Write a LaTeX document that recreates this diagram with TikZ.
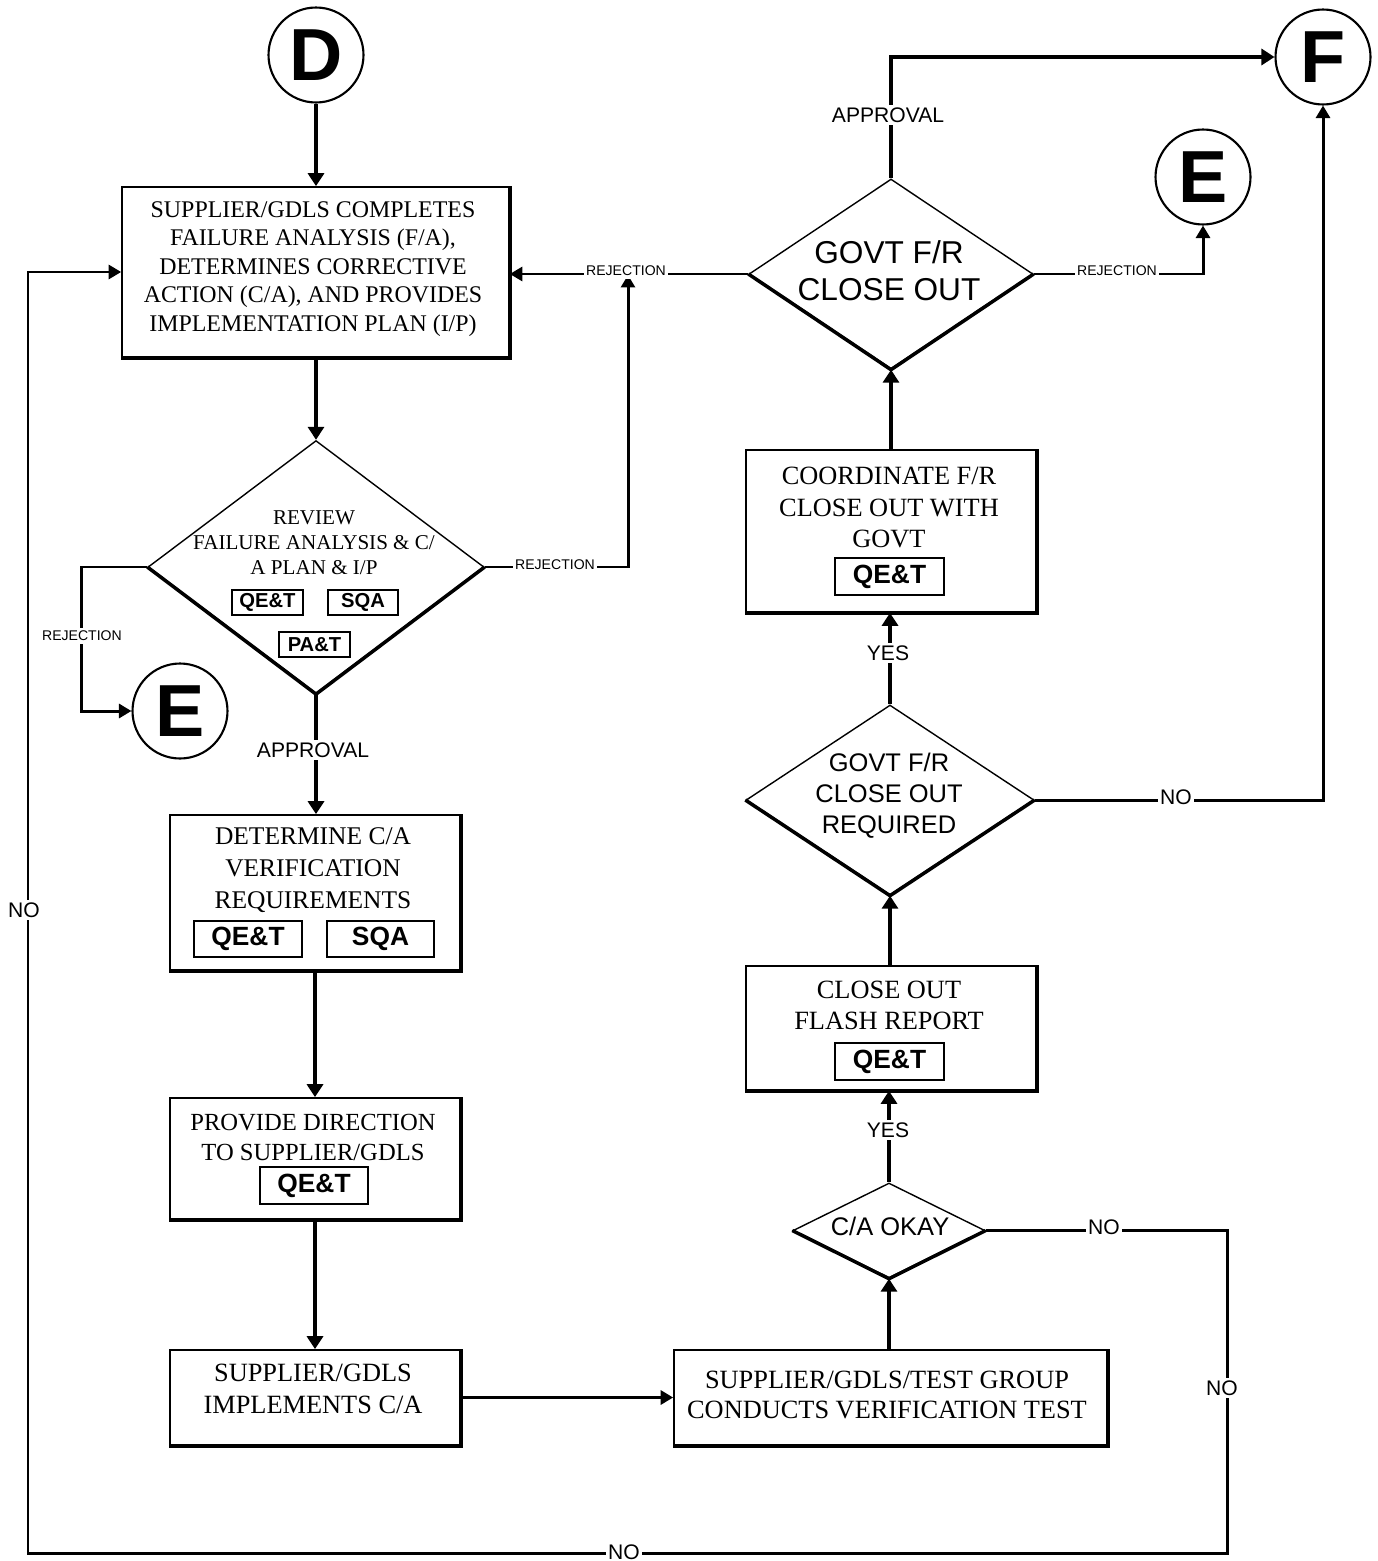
\documentclass[tikz,border=0pt]{standalone}
\usepackage{fontspec}
\setmainfont{Liberation Serif}
\newfontfamily\sansf{Liberation Sans}
\usetikzlibrary{arrows.meta,shapes.geometric,calc}
\tikzset{
  box/.style={draw, line width=1pt, rectangle, inner sep=0pt},
  tag/.style={draw, line width=0.8pt, rectangle, inner sep=0pt, font=\sansf\bfseries\fontsize{15}{15}\selectfont},
  stag/.style={tag, font=\sansf\bfseries\fontsize{11.5}{12}\selectfont},
  dia/.style={draw, diamond, line width=0.8pt, inner sep=0pt},
  conn/.style={circle, draw, line width=1.2pt, minimum size=1.9cm, inner sep=0pt, font=\sansf\bfseries\fontsize{42}{42}\selectfont},
  flow/.style={line width=2.4pt, -{Triangle[length=0.26cm,width=0.32cm]}},
  side/.style={line width=1.7pt, -{Triangle[length=0.25cm,width=0.28cm]}},
  lab/.style={fill=white, inner sep=1.5pt, font=\sansf\fontsize{12}{12}\selectfont},
  slab/.style={fill=white, inner sep=1.5pt, font=\sansf\fontsize{8}{8}\selectfont},
  btxt/.style={align=center, inner sep=0pt},
  dtxt/.style={align=center, inner sep=0pt},
}
\begin{document}
\begin{tikzpicture}[x=0.02cm,y=-0.02cm]
\useasboundingbox[fill=white] (0,0) rectangle (1377,1561);

% connectors (circles)
\node[conn] (D) at (316,55) {D};
\node[conn] (E1) at (180,711) {E};
\node[conn] (E2) at (1203,177) {E};
\node[conn] (F) at (1323,57) {F};

% boxes
\node[box, minimum width=7.74cm, minimum height=3.4cm] (b1) at (315.5,272) {};
\node[box, minimum width=5.8cm, minimum height=3.1cm] (b2) at (315,892.5) {};
\node[box, minimum width=5.8cm, minimum height=2.42cm] (b3) at (315,1158.5) {};
\node[box, minimum width=5.8cm, minimum height=1.9cm] (b4) at (315,1397.5) {};
\node[box, minimum width=8.66cm, minimum height=1.9cm] (b5) at (890.5,1397.5) {};
\node[box, minimum width=5.8cm, minimum height=2.48cm] (b6) at (891,1028) {};
\node[box, minimum width=5.8cm, minimum height=3.24cm] (b7) at (891,531) {};

% diamonds
\node[dia, minimum width=6.72cm, minimum height=5.06cm] (d1) at (316,567) {};
\node[dia, minimum width=5.76cm, minimum height=3.8cm] (d3) at (890,800) {};
\node[dia, minimum width=5.68cm, minimum height=3.8cm] (d4) at (891,274) {};
\node[dia, minimum width=3.84cm, minimum height=1.9cm] (d5) at (889,1230.5) {};

% shadow edges
\foreach \n in {b1,b2,b3,b4,b5,b6,b7}
  \draw[line width=2.6pt, line cap=square] (\n.north east) -- (\n.south east) -- (\n.south west);
\foreach \n in {d1,d3,d4,d5}
  \draw[line width=2pt, line join=round] (\n.west) -- (\n.south) -- (\n.east);

% texts
\node[btxt, font=\fontsize{13.6}{16.2}\selectfont] (t1) at (313,269)
  {SUPPLIER/GDLS COMPLETES\\FAILURE ANALYSIS (F/A),\\DETERMINES CORRECTIVE\\ACTION (C/A), AND PROVIDES\\IMPLEMENTATION PLAN (I/P)};
\node[dtxt, font=\fontsize{12}{14.2}\selectfont] (td1) at (314,543)
  {REVIEW\\FAILURE ANALYSIS \& C/\\A PLAN \& I/P};
\node[btxt, font=\fontsize{14.5}{18.2}\selectfont] (t2) at (313,870)
  {DETERMINE C/A\\VERIFICATION\\REQUIREMENTS};
\node[btxt, font=\fontsize{14}{17.6}\selectfont] (t3) at (313,1137.5)
  {PROVIDE DIRECTION\\TO SUPPLIER/GDLS};
\node[btxt, font=\fontsize{15}{18.2}\selectfont] (t4) at (313,1389)
  {SUPPLIER/GDLS\\IMPLEMENTS C/A};
\node[btxt, font=\fontsize{15}{17}\selectfont] (t5) at (887,1395)
  {SUPPLIER/GDLS/TEST GROUP\\CONDUCTS VERIFICATION TEST};
\node[dtxt, font=\sansf\fontsize{14.5}{17}\selectfont] (td5) at (890,1226) {C/A OKAY};
\node[btxt, font=\fontsize{15}{17.6}\selectfont] (t6) at (889,1005.5)
  {CLOSE OUT\\FLASH REPORT};
\node[dtxt, font=\sansf\fontsize{14.5}{17.6}\selectfont] (td3) at (889,796)
  {GOVT F/R\\CLOSE OUT\\REQUIRED};
\node[btxt, font=\fontsize{15}{17.9}\selectfont] (t7) at (889,507.5)
  {COORDINATE F/R\\CLOSE OUT WITH\\GOVT};
\node[dtxt, font=\sansf\fontsize{18}{21}\selectfont] (td4) at (889,270.5)
  {GOVT F/R\\CLOSE OUT};

% tags
\node[tag, minimum width=2.16cm, minimum height=0.72cm] (g2a) at (248,939) {QE\&T};
\node[tag, minimum width=2.14cm, minimum height=0.72cm] (g2b) at (380.5,939) {SQA};
\node[tag, minimum width=2.16cm, minimum height=0.74cm] (g3) at (314,1185.5) {QE\&T};
\node[tag, minimum width=2.18cm, minimum height=0.74cm] (g6) at (889.5,1061.5) {QE\&T};
\node[tag, minimum width=2.18cm, minimum height=0.74cm] (g7) at (889.5,576.5) {QE\&T};
\node[stag, minimum width=1.42cm, minimum height=0.5cm] (g1a) at (267.5,602.5) {QE\&T};
\node[stag, minimum width=1.4cm, minimum height=0.5cm] (g1b) at (363,602.5) {SQA};
\node[stag, minimum width=1.42cm, minimum height=0.5cm] (g1c) at (314.5,644.5) {PA\&T};

% coordinates
\coordinate (rj) at (628,275);
\coordinate (n1) at (1227,1553);
\coordinate (n2) at (28,1553);

% flow connectors
\draw[flow] (D.south) -- (D.south |- b1.north);
\draw[flow] (b1.south -| d1.north) -- (d1.north);
\draw[flow] (d1.south) -- (d1.south |- b2.north);
\draw[flow] (b2.south) -- (b3.north);
\draw[flow] (b3.south) -- (b4.north);
\draw[side] (b4.east) -- (b5.west);
\draw[flow] (b5.north -| d5.south) -- (d5.south);
\draw[flow] (d5.north) -- (d5.north |- b6.south);
\draw[flow] (b6.north -| d3.south) -- (d3.south);
\draw[flow] (d3.north) -- (d3.north |- b7.south);
\draw[flow] (b7.north -| d4.south) -- (d4.south);
\draw[flow] (d4.north) |- (F.west);

% side connectors
\draw[side] (d1.west) -- ++(-66,0) |- (E1.west);
\draw[side] (d1.east) -| (rj);
\draw[side] (d4.west) -- (b1.east |- d4.west);
\draw[side] (d4.east) -| (E2.south);
\draw[side] (d3.east) -| (F.south);
\draw[side] (d5.east) -| (n1) -- (n2) |- (b1.west);

% labels
\node[slab] (l1) at (82,636) {REJECTION};
\node[slab] (l2) at (555,565) {REJECTION};
\node[slab] (l3) at (626,271) {REJECTION};
\node[slab] (l4) at (1117,271) {REJECTION};
\node[lab] (l5) at (313,750) {APPROVAL};
\node[lab] (l6) at (888,115) {APPROVAL};
\node[lab] (l7) at (888,653) {YES};
\node[lab] (l8) at (888,1130) {YES};
\node[lab] (l9) at (1176,797) {NO};
\node[lab] (l10) at (1104,1227) {NO};
\node[lab] (l11) at (1222,1388) {NO};
\node[lab] (l12) at (624,1552) {NO};
\node[lab] (l13) at (24,910) {NO};
\end{tikzpicture}
\end{document}
